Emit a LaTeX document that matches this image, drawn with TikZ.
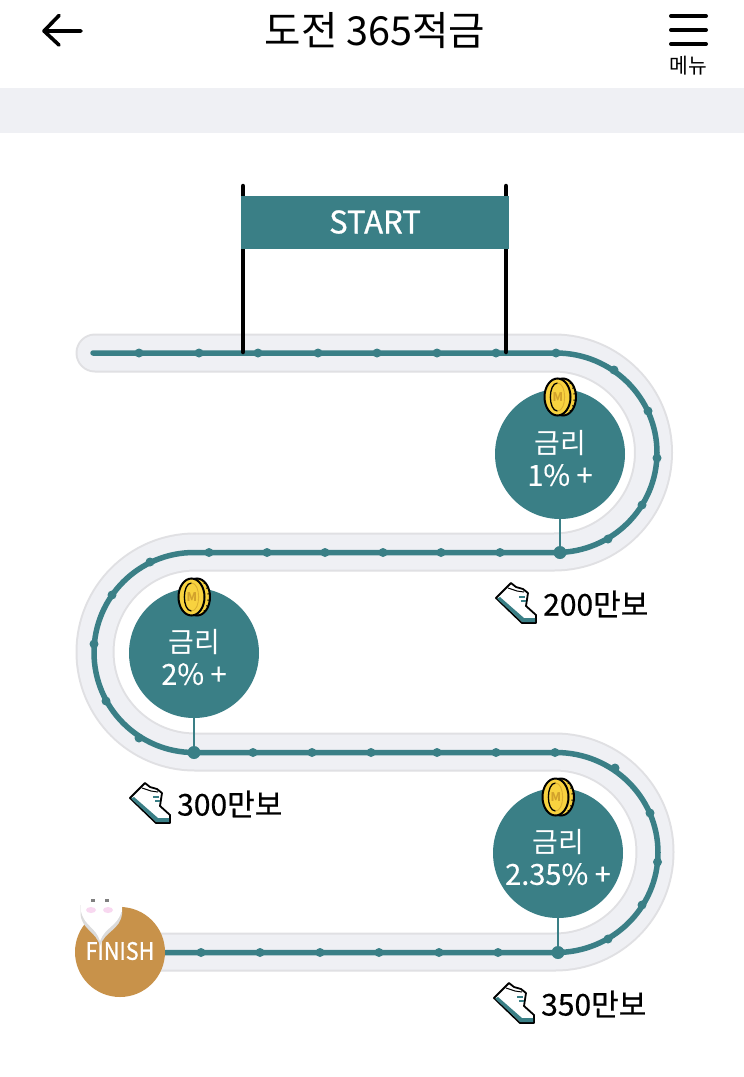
\documentclass[tikz,border=0pt]{standalone}
\usepackage{fontspec}
\setmainfont{Noto Sans CJK KR}[Scale=1]
\newfontfamily\boldishkr{Noto Sans CJK KR}[FakeBold=0.5]
\newfontfamily\boldkr{Noto Sans CJK KR}[FakeBold=0.9]
\newfontfamily\semikr{Noto Sans CJK KR}[FakeBold=0.3]
\definecolor{teal1}{HTML}{3A7F86}
\definecolor{band}{HTML}{EFF0F4}
\definecolor{bandedge}{HTML}{E0E0E3}
\definecolor{gold}{HTML}{F8D23F}
\definecolor{goldd}{HTML}{D2A22C}
\definecolor{finishc}{HTML}{C8924A}
\definecolor{cheek}{HTML}{F8D8F0}
\tikzset{
 trackpath/.style={line join=round,line cap=round},
 dotn/.style={circle,fill=teal1,inner sep=0pt,minimum size=9pt},
 bigdot/.style={circle,fill=teal1,inner sep=0pt,minimum size=13pt},
 rate/.style={circle,fill=teal1,inner sep=0pt,minimum size=130pt,text=white,align=center,font=\fontsize{28}{32}\selectfont},
 steps/.style={anchor=west,font=\boldishkr\fontsize{30}{32}\selectfont,text=black,inner sep=0pt},
 coinpic/.pic={
  \fill[gold,draw=black,line width=2pt] (3,0) ellipse[x radius=13,y radius=18.5];
  \foreach \a in {-50,-30,-10,10,30,50}{\draw[black,line width=.9pt] ({3+10.5*cos(\a)},{17.5*sin(\a)}) -- ({3+13*cos(\a)},{18.5*sin(\a)});}
  \fill[gold,draw=black,line width=2pt] (-2.5,0) ellipse[x radius=13,y radius=18.5];
  \draw[black,line width=1.3pt] (-2.5,-14) .. controls (-12,-14) and (-12,14) .. (-2.5,14);
  \draw[goldd!70!gold,line width=.9pt] (-2.5,-14) .. controls (7,-14) and (7,14) .. (-2.5,14);
  \node[font=\fontsize{12}{12}\selectfont\bfseries,text=goldd,inner sep=0pt] at (-2,0) {M};
 },
 shoepic/.pic={
  \fill[white,draw=black,line width=1.8pt,line join=round] (0,14) -- (15,-1) -- (20,3) -- (27,5) -- (32,9) -- (30,22) -- (40,31) -- (40,39) -- (26,39) -- cycle;
  \fill[teal1] (4,13) -- (28,34) -- (39,34) -- (39,38.2) -- (26.5,38.2) -- (1,14.5) -- cycle;
  \draw[black,line width=1pt] (12,4) -- (21,7) -- (28,8);
  \draw[teal1,line width=1.2pt] (23,13) -- (29,13) (25,17) -- (30,17);
 },
}
\begin{document}
\begin{tikzpicture}[x=1pt,y=-1pt]
\useasboundingbox (0,0) rectangle (744,1077);
\fill[white] (0,0) rectangle (744,1077);
% top bar
\fill[band] (0,88) rectangle (744,133);
\coordinate (arrowtail) at (81,31);
\coordinate (arrowtip) at (44,31);
\draw[line width=3.6pt,line cap=round,line join=round,black] (arrowtail) -- (arrowtip) (59,15.5) -- (arrowtip) -- (59,45);
\node[inner sep=0pt,font=\fontsize{40}{44}\selectfont,xscale=.99] (title) at (375,31) {도전 365적금};
\foreach \yy in {16,30,44}{\draw[line width=4pt,line cap=round,black] (671,\yy) -- (706,\yy);}
\node[inner sep=0pt,font=\fontsize{21}{23}\selectfont,xscale=.97] (menu) at (688,66) {메뉴};
% track band
\def\bandtrack{(95,353) -- (554,353) arc[start angle=-90,end angle=90,radius=99.5] -- (195,552) arc[start angle=270,end angle=90,radius=100] -- (555,752) arc[start angle=-90,end angle=90,radius=100] -- (120,952)}
\draw[trackpath,bandedge,line width=39pt] \bandtrack;
\draw[trackpath,band,line width=35pt] \bandtrack;
% teal line
\draw[trackpath,teal1,line width=5.5pt] (93,353) -- (556,353) arc[start angle=-90,end angle=90,x radius=101,y radius=99.75] -- (194,552.5) arc[start angle=270,end angle=90,radius=100] -- (556,752.5) arc[start angle=-90,end angle=90,x radius=102,y radius=100] -- (120,952.5);
% dots
\foreach \i/\p in {1/{139,353},2/{199,353},3/{258,353},4/{318,353},5/{377,353},6/{437,353},7/{496,353},8/{556,353},
 9/{614,370},10/{648,411},11/{657,458},12/{642,505},13/{608,539},
 14/{500,552.5},15/{441,552.5},16/{383,552.5},17/{325,552.5},18/{267,552.5},19/{209,552.5},
 20/{150,562},21/{112,595},22/{94,644},23/{106,701},24/{139,738},
 25/{253,752.5},26/{312,752.5},27/{371,752.5},28/{437,752.5},29/{496,752.5},30/{555,752.5},
 31/{615,768},32/{650,813},33/{657.5,862},34/{642,905},35/{608,939},
 36/{498,952.5},37/{439,952.5},38/{379,952.5},39/{320,952.5},40/{260,952.5},41/{201,952.5}}
 {\node[dotn] (d\i) at (\p) {};}
\node[bigdot] (b1) at (560,552.5) {};
\node[bigdot] (b2) at (194,752.5) {};
\node[bigdot] (b3) at (558,952.5) {};
% banner
\coordinate (p1t) at (243,186); \coordinate (p1b) at (243,352);
\coordinate (p2t) at (506,186); \coordinate (p2b) at (506,352);
\draw[line width=4.5pt,black,line cap=round] (p1t) -- (p1b);
\draw[line width=4.5pt,black,line cap=round] (p2t) -- (p2b);
\node[fill=teal1,text=white,minimum width=268pt,minimum height=53pt,inner sep=0pt,font=\boldkr\fontsize{31}{36}\selectfont] (start) at (375,222) {START};
% rate circles
\node[rate] (r1) at (560,454) {\rule{0pt}{32pt}금리\\[0pt]{\semikr\fontsize{29}{32}\selectfont 1\% +}};
\node[rate] (r2) at (194,653) {\rule{0pt}{32pt}금리\\[0pt]{\semikr\fontsize{29}{32}\selectfont 2\% +}};
\node[rate] (r3) at (558,853) {\rule{0pt}{32pt}금리\\[0pt]{\semikr\fontsize{29}{32}\selectfont 2.35\% +}};
\draw[teal1,line width=1.4pt] (r1) -- (b1);
\draw[teal1,line width=1.4pt] (r2) -- (b2);
\draw[teal1,line width=1.4pt] (r3) -- (b3);
\pic at (560,397) {coinpic};
\pic at (194,597) {coinpic};
\pic at (558,797) {coinpic};
\pic at (496,584) {shoepic};
\pic at (130,784) {shoepic};
\pic at (494,984) {shoepic};
\node[steps] (s1) at (543,604) {200만보};
\node[steps] (s2) at (177,804) {300만보};
\node[steps] (s3) at (541,1004) {350만보};
% finish
\node[circle,fill=finishc,minimum size=90pt,inner sep=0pt] (finish) at (120,952) {};
\node[text=white,inner sep=0pt,font=\boldkr\fontsize{24}{26}\selectfont,xscale=.9] (fintext) at (120,951) {FINISH};
% pin
\fill[black!14] (80.5,905) -- (80.5,914) .. controls (82,930) and (96,931) .. (100,946) .. controls (105,931) and (120,930) .. (122,914) -- (122,905) -- cycle;
\fill[white] (81,895) rectangle (121.5,912);
\fill[white] (81,911) .. controls (84,926) and (96,927) .. (100,941) .. controls (105,927) and (118,926) .. (121.5,911) -- cycle;
\fill[cheek] (91,910) ellipse[x radius=5,y radius=3];
\fill[cheek] (108,910) ellipse[x radius=5,y radius=3];
\fill[black!50] (91,899) rectangle (95,901.5);
\fill[black!50] (105,899) rectangle (109,901.5);
\end{tikzpicture}
\end{document}
